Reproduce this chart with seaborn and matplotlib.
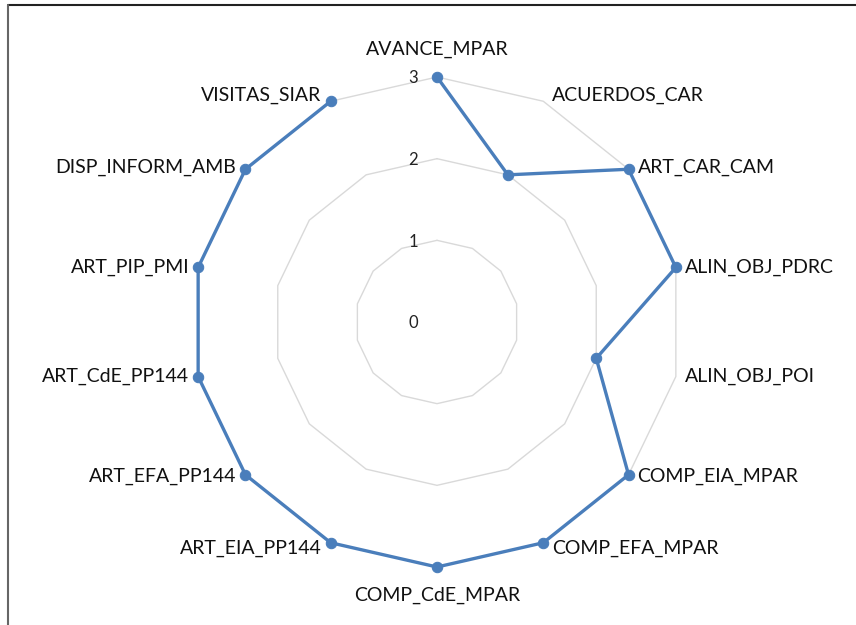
import numpy as np
import pandas as pd
import matplotlib
matplotlib.use("Agg")
import matplotlib.pyplot as plt
import seaborn as sns
from matplotlib.lines import Line2D

categories = ["AVANCE_MPAR", "ACUERDOS_CAR", "ART_CAR_CAM", "ALIN_OBJ_PDRC",
              "ALIN_OBJ_POI", "COMP_EIA_MPAR", "COMP_EFA_MPAR", "COMP_CdE_MPAR",
              "ART_EIA_PP144", "ART_EFA_PP144", "ART_CdE_PP144", "ART_PIP_PMI",
              "DISP_INFORM_AMB", "VISITAS_SIAR"]
values = [3, 2, 3, 3, 2, 3, 3, 3, 3, 3, 3, 3, 3, 3]
ring_levels = [1, 2, 3]
tick_labels = ["0", "1", "2", "3"]

sns.set_theme(style="white")
plt.rcParams['font.family'] = ['Lato', 'DejaVu Sans']

fig = plt.figure(figsize=(8.56, 6.25), dpi=100)
ax = fig.add_axes([(437 - 245) / 856, (625 - 322 - 245) / 625, 490 / 856, 490 / 625],
                  projection="polar")
ax.set_theta_offset(np.pi / 2)
ax.set_theta_direction(-1)
ax.grid(False)
ax.spines["polar"].set_visible(False)
ax.set_xticks([])
ax.set_yticks([])
ax.set_ylim(0, 3)

n = len(categories)
angles = np.arange(n) * 2 * np.pi / n
closed_angles = np.append(angles, angles[0])

# polygon grid rings
for lvl in ring_levels:
    ax.plot(closed_angles, [lvl] * (n + 1), color="#D9D9D9", lw=1.0, zorder=1,
            clip_on=False)

df = pd.DataFrame({"angle": closed_angles, "value": values + [values[0]]})
sns.lineplot(data=df, x="angle", y="value", sort=False, ax=ax, color="#4A7EBB",
             lw=2.4, marker="o", markersize=7.5, markeredgecolor="#4A7EBB",
             zorder=3)
for ln in ax.lines:
    ln.set_clip_on(False)
ax.set_xlabel("")
ax.set_ylabel("")
ax.set_ylim(0, 3)

# radial tick labels
for i, lab in enumerate(tick_labels):
    ax.annotate(lab, xy=(0, i), xytext=(-17, -1), textcoords="offset points",
                ha="center", va="center", fontsize=12, color="#222222", zorder=4)

# category labels
for ang, lab in zip(angles, categories):
    s, c = np.sin(ang), np.cos(ang)
    if abs(s) < 1e-6:
        ha = "center"
        va = "bottom" if c > 0 else "top"
        off = (0, 14 * np.sign(c))
    else:
        ha = "left" if s > 0 else "right"
        va = "center"
        off = (6.5 * np.sign(s), 6 * c ** 3)
    ax.annotate(lab, xy=(ang, 3), xytext=off, textcoords="offset points",
                ha=ha, va=va, fontsize=14, color="#111111", zorder=4)

# frame lines (top and left)
fig.add_artist(Line2D([8 / 856, 1.0], [1 - 5 / 625, 1 - 5 / 625], color="#222222",
                      lw=1.5, transform=fig.transFigure))
fig.add_artist(Line2D([8 / 856, 8 / 856], [0, 1 - 5 / 625], color="#666666",
                      lw=1.5, transform=fig.transFigure))

fig.savefig("out.png", dpi=100)
